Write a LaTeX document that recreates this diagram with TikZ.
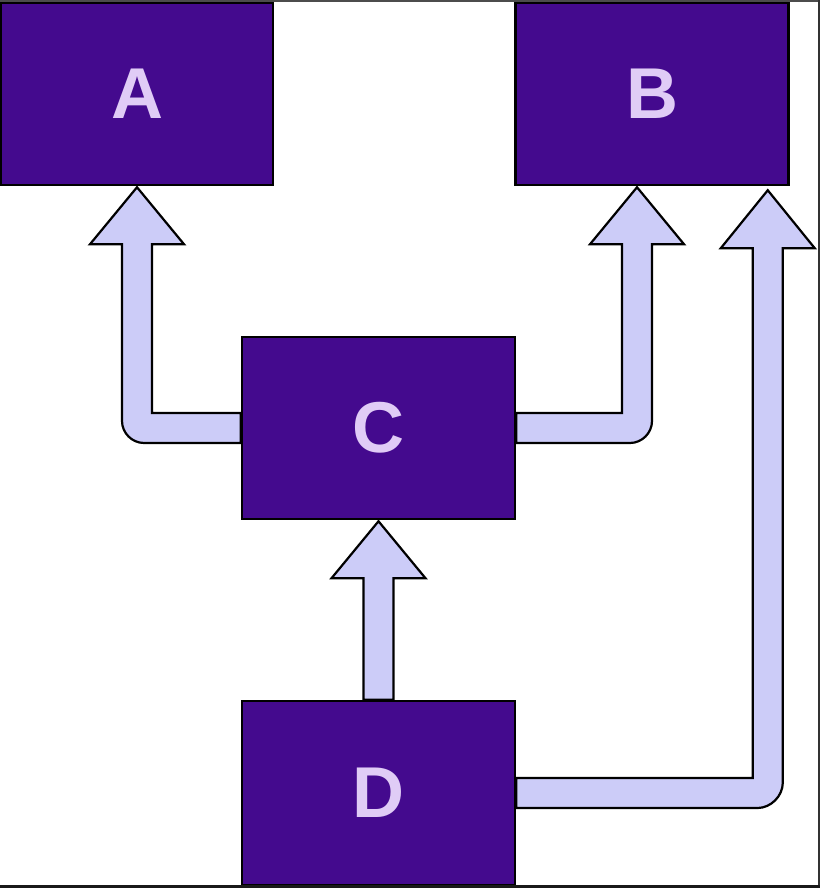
\documentclass[tikz,border=0pt]{standalone}
\usepackage{fontspec}
\setmainfont{Liberation Sans}
\usetikzlibrary{calc,backgrounds}
\pgfdeclarelayer{bottom}
\pgfsetlayers{bottom,background,main}
\definecolor{boxfill}{RGB}{68,10,142}
\definecolor{boxtext}{RGB}{224,204,246}
\definecolor{arrfill}{RGB}{204,204,248}
\begin{document}
\begin{tikzpicture}[x=1pt,y=1pt,
  blk/.style={draw=black,line width=2.5pt,fill=boxfill,text=boxtext,
    font=\fontsize{72}{72}\selectfont\bfseries,inner sep=0pt},
  arr/.style={draw=black,line width=2.2pt,fill=arrfill,line join=miter},
  frameline/.style={line width=2.5pt}]
\useasboundingbox (0,0) rectangle (820,888);
\begin{pgfonlayer}{bottom}
\fill[white] (0,0) rectangle (820,888);
\end{pgfonlayer}
% nodes
\node[blk,minimum width=272,minimum height=182] (A) at (137,794) {A};
\node[blk,minimum width=273,minimum height=182] (B) at (652,794) {B};
\node[blk,minimum width=273,minimum height=182] (C) at (378.5,460) {C};
\node[blk,minimum width=273,minimum height=184] (D) at (378.5,95) {D};
% frame of the screenshot
\draw[frameline,draw=black!70] (0,887.5) -- (820,887.5);
\draw[frameline,draw=black!80] (818.8,888) -- (818.8,0);
\draw[line width=3pt,draw=black!90] (0,1.5) -- (820,1.5);
% arrows (under the boxes)
\begin{pgfonlayer}{background}
% C -> A
\draw[arr] let \p1=(A.south), \p2=(C.west) in
  (\x2,\y2+15) -- (\x1+15,\y2+15) -- (\x1+15,\y1-58) -- (\x1+47,\y1-58)
  -- (\x1,\y1-1) -- (\x1-47,\y1-58) -- (\x1-15,\y1-58) -- (\x1-15,\y2+7)
  .. controls (\x1-15,\y2-5) and (\x1-5,\y2-15) .. (\x1+7,\y2-15)
  -- (\x2,\y2-15) -- cycle;
% C -> B
\draw[arr] let \p1=($(B.south)+(-15,0)$), \p2=(C.east) in
  (\x2,\y2+15) -- (\x1-15,\y2+15) -- (\x1-15,\y1-58) -- (\x1-47,\y1-58)
  -- (\x1,\y1-1) -- (\x1+47,\y1-58) -- (\x1+15,\y1-58) -- (\x1+15,\y2+7)
  .. controls (\x1+15,\y2-5) and (\x1+5,\y2-15) .. (\x1-7,\y2-15)
  -- (\x2,\y2-15) -- cycle;
% D -> B
\draw[arr] let \p1=($(B.south east)+(-22,0)$), \p2=(D.east) in
  (\x2,\y2+15) -- (\x1-15,\y2+15) -- (\x1-15,\y1-62) -- (\x1-47,\y1-62)
  -- (\x1,\y1-4) -- (\x1+47,\y1-62) -- (\x1+15,\y1-62) -- (\x1+15,\y2+10)
  .. controls (\x1+15,\y2-3) and (\x1+3,\y2-15) .. (\x1-10,\y2-15)
  -- (\x2,\y2-15) -- cycle;
% D -> C
\draw[arr] let \p1=(C.south), \p2=(D.north) in
  (\x1-15,\y2) -- (\x1-15,\y1-58) -- (\x1-47,\y1-58) -- (\x1,\y1-1)
  -- (\x1+47,\y1-58) -- (\x1+15,\y1-58) -- (\x1+15,\y2) -- cycle;
\end{pgfonlayer}
\end{tikzpicture}
\end{document}
